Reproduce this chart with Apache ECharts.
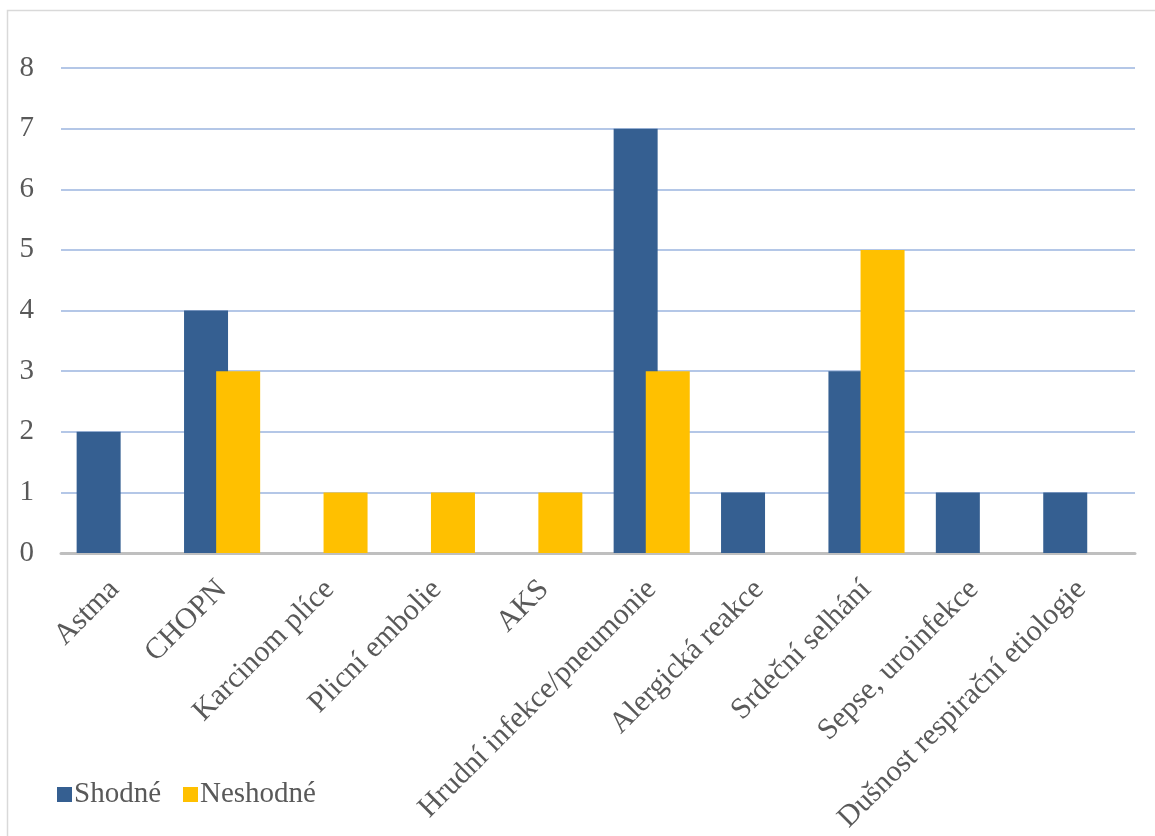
<!DOCTYPE html>
<html>
<head>
<meta charset="utf-8">
<script src="https://cdn.jsdelivr.net/npm/echarts@6/dist/echarts.min.js"></script>
<style>
  html, body { margin: 0; padding: 0; background: #fff; }
  #chart { width: 1155px; height: 836px; }
</style>
</head>
<body>
<div id="chart"></div>
<script>
var categories = ['Astma', 'CHOPN', 'Karcinom plíce', 'Plicní embolie', 'AKS',
    'Hrudní infekce/pneumonie', 'Alergická reakce', 'Srdeční selhání',
    'Sepse, uroinfekce', 'Dušnost respirační etiologie'];
var shodne = [2, 4, 0, 0, 0, 7, 1, 3, 1, 1];
var neshodne = [0, 3, 1, 1, 1, 3, 0, 5, 0, 0];
var seriesNames = ['Shodné', 'Neshodné'];

var font = '"Liberation Serif", "Times New Roman", serif';

var myChart = echarts.init(document.getElementById('chart'));
var option = {
    backgroundColor: '#fff',
    animation: false,
    graphic: [{
        type: 'rect',
        shape: { x: 7.5, y: 10.5, width: 1200, height: 900 },
        style: { fill: 'none', stroke: '#d9d9d9', lineWidth: 1.5 },
        silent: true
    }],
    grid: { left: 61, right: 20, top: 68, bottom: 283, containLabel: false },
    legend: {
        left: 52,
        top: 775,
        itemWidth: 15,
        itemHeight: 15,
        itemGap: 22,
        icon: 'rect',
        textStyle: { fontFamily: font, fontSize: 29, color: '#595959', padding: [2, 0, 0, -3] },
        data: seriesNames
    },
    xAxis: {
        type: 'category',
        data: categories,
        axisLine: { lineStyle: { color: '#bfbfbf', width: 3 } },
        axisTick: { show: false },
        axisLabel: {
            rotate: 45,
            interval: 0,
            margin: 32,
            fontFamily: font,
            fontSize: 30,
            color: '#595959'
        }
    },
    yAxis: {
        type: 'value',
        min: 0,
        max: 8,
        interval: 1,
        axisLine: { show: false },
        axisTick: { show: false },
        splitLine: { lineStyle: { color: '#b4c7e7', width: 2 } },
        axisLabel: { fontFamily: font, fontSize: 29, color: '#595959', margin: 27 }
    },
    series: [
        {
            name: seriesNames[0],
            type: 'bar',
            data: shodne,
            barWidth: 44,
            barGap: '-27%',
            itemStyle: { color: '#355f91' }
        },
        {
            name: seriesNames[1],
            type: 'bar',
            data: neshodne,
            barWidth: 44,
            barGap: '-27%',
            itemStyle: { color: '#ffc000' }
        }
    ]
};
myChart.setOption(option);
</script>
</body>
</html>
